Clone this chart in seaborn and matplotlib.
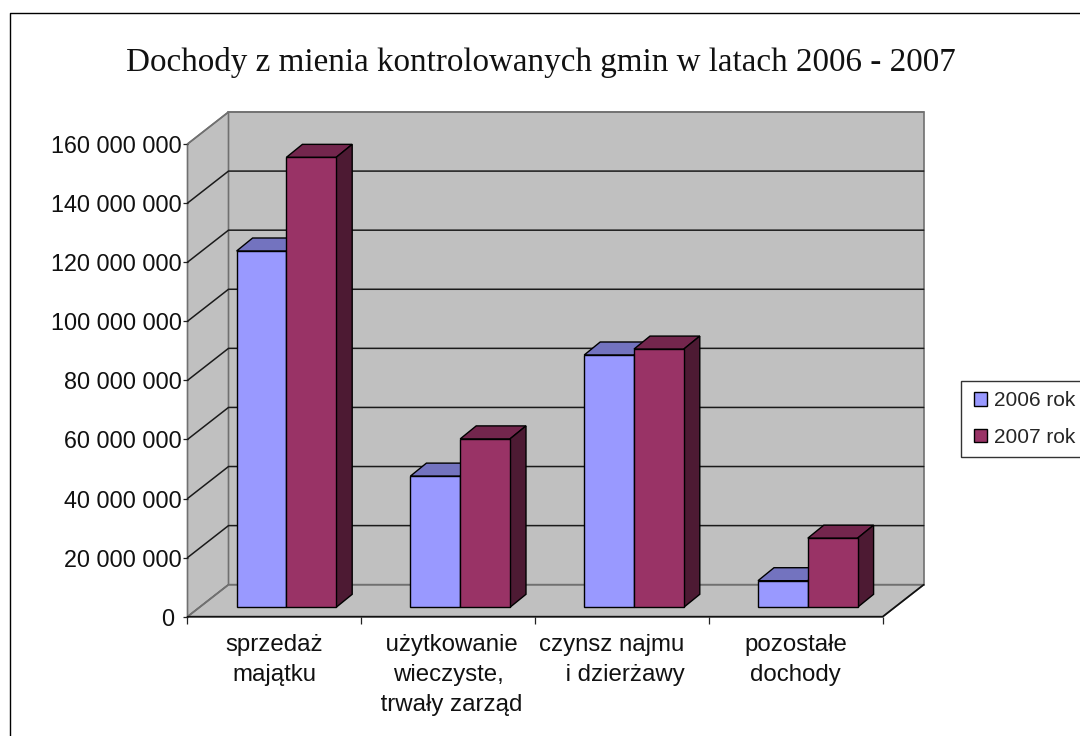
import matplotlib
matplotlib.use('Agg')
import matplotlib.pyplot as plt
import numpy as np
import pandas as pd
import seaborn as sns
from matplotlib.lines import Line2D
from matplotlib.patches import Polygon, Rectangle
from matplotlib.ticker import FuncFormatter
from matplotlib.transforms import Affine2D, IdentityTransform
from matplotlib.colors import to_rgb

# nbsp in the labels keeps the uneven line centring of the original
kategorie = ['sprzedaż\nmajątku', '\u00a0użytkowanie\nwieczyste,\n\u00a0trwały zarząd',
             'czynsz najmu\u00a0\u00a0\u00a0\n\u00a0i dzierżawy', 'pozostałe\ndochody']
rok_2006 = [120600000, 44400000, 85400000, 9000000]
rok_2007 = [152300000, 57000000, 87400000, 23400000]
y_ticks = [0, 20000000, 40000000, 60000000, 80000000, 100000000, 120000000, 140000000, 160000000]
kolory = ['#9999FF', '#993366']

W, H = 1080, 736
DEPTH = (41, 32)  # wall depth, px
BAR_SHIFT = (12, 9.4)  # bars stand inside the floor
BAR_DEPTH = (16, 13)

sns.set_style('white')
plt.rcParams['font.family'] = ['Liberation Sans', 'DejaVu Sans']

df = pd.DataFrame({
    'kategoria': kategorie * 2,
    'rok': ['2006 rok'] * 4 + ['2007 rok'] * 4,
    'dochody': rok_2006 + rok_2007,
})

fig = plt.figure(figsize=(W / 100, H / 100), dpi=100, facecolor='white')
ax = fig.add_axes([187.5 / W, 1 - 616.7 / H, (882.7 - 187.5) / W, (616.7 - 144) / H])

sns.barplot(data=df, x='kategoria', y='dochody', hue='rok', palette=kolory, width=0.573, gap=0,
            saturation=1, edgecolor='black', linewidth=1, ax=ax, zorder=4)
handles, labels = ax.get_legend_handles_labels()
ax.get_legend().remove()

ax.set_xlim(-0.5, 3.5)
ax.set_ylim(0, 160000000)
ax.patch.set_visible(False)
for s in ax.spines.values():
    s.set_visible(False)
ax.set_xlabel('')
ax.set_ylabel('')

# walls and floor, in display px
to_px = ax.transData.transform
x0, y0 = to_px((-0.5, 0))
x1, y1 = to_px((3.5, 160000000))
dx, dy = DEPTH
px = IdentityTransform()
szary = '#C0C0C0'
krawedz = '#707070'
ax.add_patch(Polygon([(x0 + dx, y0 + dy), (x1 + dx, y0 + dy), (x1 + dx, y1 + dy), (x0 + dx, y1 + dy)],
                     transform=px, fc=szary, ec=krawedz, lw=1.2, zorder=0, clip_on=False))
ax.add_patch(Polygon([(x0, y0), (x0 + dx, y0 + dy), (x0 + dx, y1 + dy), (x0, y1)],
                     transform=px, fc=szary, ec=krawedz, lw=1.2, zorder=0, clip_on=False))
ax.add_patch(Polygon([(x0, y0), (x1, y0), (x1 + dx, y0 + dy), (x0 + dx, y0 + dy)],
                     transform=px, fc=szary, ec=krawedz, lw=1.2, zorder=0, clip_on=False))
for v in y_ticks:
    yy = to_px((0, v))[1]
    c = krawedz if v in (0, 160000000) else '#1a1a1a'
    ax.add_line(Line2D([x0, x0 + dx, x1 + dx], [yy, yy + dy, yy + dy], transform=px, color=c, lw=1.1,
                       zorder=1, clip_on=False))
ax.add_line(Line2D([x0, x1, x1 + dx], [y0, y0, y0 + dy], transform=px, color='#111111', lw=1.2,
                   zorder=2, clip_on=False))

# bars: move the fronts back and add top and side faces
sx, sy = BAR_SHIFT
bx, by = BAR_DEPTH
for cont in ax.containers:
    for bar in cont:
        (l, b), (r, t) = to_px(bar.get_bbox().get_points())
        l, r, b, t = l + sx, r + sx, b + sy, t + sy
        col = np.array(to_rgb(bar.get_facecolor()))
        ax.add_patch(Polygon([(l, t), (r, t), (r + bx, t + by), (l + bx, t + by)], transform=px,
                             fc=col * 0.75, ec='black', lw=1, zorder=3, clip_on=False))
        ax.add_patch(Polygon([(r, b), (r + bx, b + by), (r + bx, t + by), (r, t)], transform=px,
                             fc=col * 0.5, ec='black', lw=1, zorder=3, clip_on=False))
        bar.set_transform(ax.transData + Affine2D().translate(sx, sy))
        bar.set_clip_on(False)


def fmt(v, p):
    # the zero label sits a bit further from the axis in the original
    return '0\u00a0' if v == 0 else f'{v:,.0f}'.replace(',', ' ')


ax.yaxis.set_major_formatter(FuncFormatter(fmt))
ax.set_yticks(y_ticks)
ax.tick_params(axis='y', left=True, length=5.5 * 0.72, width=0.9, color='#222222', pad=0, labelsize=16.8,
               labelcolor='#111111')
ax.set_xticks(range(4), kategorie)
ax.tick_params(axis='x', bottom=False, pad=8.7, labelsize=17.3, labelcolor='#111111')
for lab in ax.get_xticklabels():
    lab.set_linespacing(1.48)
ax.set_xticks(np.arange(-0.5, 4), minor=True)
ax.tick_params(axis='x', which='minor', bottom=True, length=6.5 * 0.72, width=0.9, color='#222222')

fig.text(541 / W, 1 - 62 / H, 'Dochody z mienia kontrolowanych gmin w latach 2006 - 2007', ha='center',
         va='center', family=['Liberation Serif', 'DejaVu Serif'], fontsize=23.83, color='#111111')

# page frame runs off the picture on the right and at the bottom
fig.add_artist(Line2D([9.5 / W, 9.5 / W, 1], [0, 1 - 13 / H, 1 - 13 / H], color='black', lw=1))

# legend frame is drawn apart, it runs off the right edge
fig.add_artist(Rectangle((960.5 / W, 1 - 456.7 / H), 130 / W, 76.2 / H, fc='white', ec='#333333', lw=1))
fig.legend(handles, labels, loc='upper left', bbox_to_anchor=(960.5 / W, 1 - 377.5 / H), frameon=False,
           fontsize=15, borderaxespad=0, borderpad=0.65,
           handlelength=0.64, handleheight=0.64, handletextpad=0.34, labelspacing=0.85)

fig.savefig('out.png', dpi=100)
